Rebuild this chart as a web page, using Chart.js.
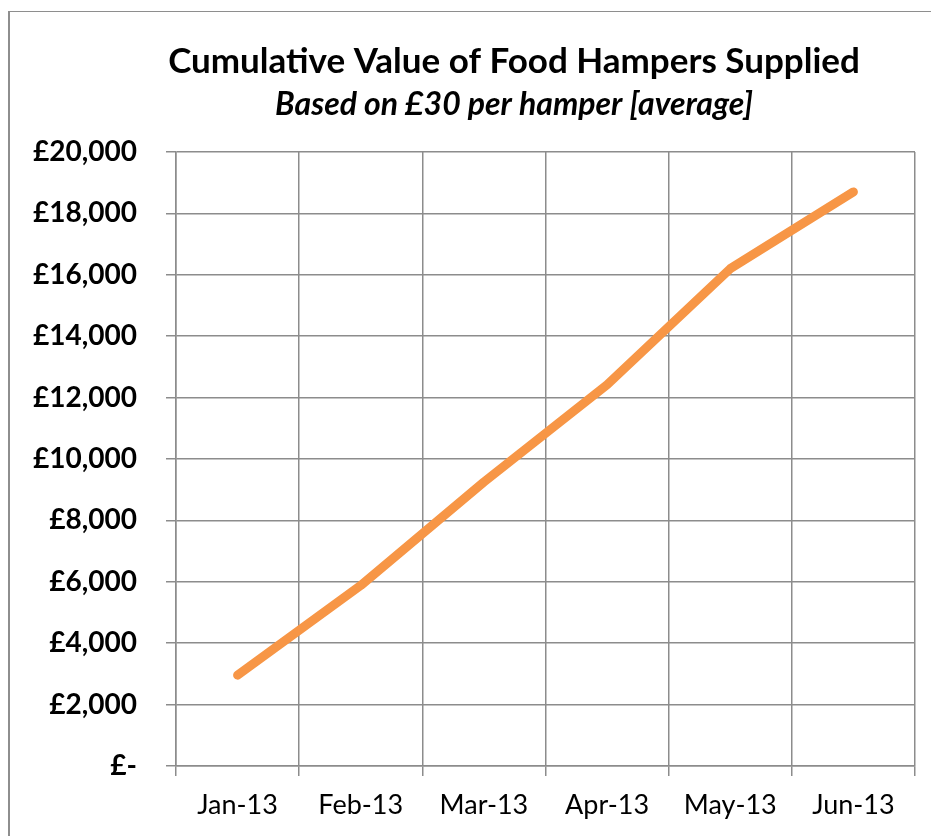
<!DOCTYPE html>
<html>
<head>
<meta charset="utf-8">
<script src="https://cdn.jsdelivr.net/npm/chart.js@4/dist/chart.umd.min.js"></script>
<style>
    body { margin: 0; background: #fff; }
    #wrap { position: relative; width: 931px; height: 836px; }
    #frame { position: absolute; left: 8px; top: 11px; right: 0; bottom: 0; border-top: 1px solid #8e8e8e; border-left: 2px solid #8e8e8e; }
    canvas { position: absolute; left: 0; top: 0; }
</style>
</head>
<body>
<div id="wrap">
    <div id="frame"></div>
    <canvas id="grafico" width="931" height="836"></canvas>
</div>
<script>
const titulo = "Cumulative Value of Food Hampers Supplied";
const subtitulo = "Based on £30 per hamper [average]";
const meses = ["Jan-13", "Feb-13", "Mar-13", "Apr-13", "May-13", "Jun-13"];
const valores = [2960, 5880, 9250, 12420, 16200, 18700];
const yMin = 0;
const yMax = 20000;
const yPaso = 2000;

const fuente = "Lato, 'Open Sans', sans-serif";
const gris = "#8c8c8c";

function formatoLibra(v) {
    if (v === 0) return "£-";
    return "£" + v.toLocaleString("en-GB");
}

// el titulo de Excel no esta centrado sobre el canvas, asi que lo dibujo a mano
const titulos = {
    id: "titulos",
    afterDraw(chart) {
        const c = chart.ctx;
        c.save();
        c.fillStyle = "#000";
        c.textAlign = "center";
        c.textBaseline = "middle";
        c.font = "bold 35px " + fuente;
        c.fillText(titulo, 514, 62);
        c.font = "italic bold 32px " + fuente;
        c.fillText(subtitulo, 514, 105);
        c.restore();
    }
};

const ctx = document.getElementById("grafico").getContext("2d");

new Chart(ctx, {
    type: "line",
    data: {
        labels: meses,
        datasets: [{
            label: "Value",
            data: valores,
            borderColor: "#f79646",
            borderWidth: 9,
            borderCapStyle: "round",
            borderJoinStyle: "round",
            pointRadius: 0,
            fill: false,
            tension: 0
        }]
    },
    options: {
        responsive: false,
        animation: false,
        layout: { padding: { left: 0, right: 16, top: 152, bottom: 0 } },
        plugins: {
            legend: { display: false },
            tooltip: { enabled: false }
        },
        scales: {
            x: {
                offset: true,
                grid: { offset: true, color: gris, lineWidth: 1.5, tickLength: 10 },
                border: { color: gris, width: 1.5 },
                ticks: { color: "#000", font: { family: fuente, size: 27 }, padding: 13, maxRotation: 0 },
                afterFit: s => { s.height = 70; }
            },
            y: {
                min: yMin,
                max: yMax,
                grid: { color: gris, lineWidth: 1.5, tickLength: 10 },
                border: { color: gris, width: 1.5 },
                ticks: {
                    stepSize: yPaso,
                    color: "#000",
                    font: { family: fuente, size: 28, weight: "bold" },
                    padding: 29,
                    callback: v => formatoLibra(v)
                },
                afterFit: s => { s.width = 176; }
            }
        }
    },
    plugins: [titulos]
});
</script>
</body>
</html>
